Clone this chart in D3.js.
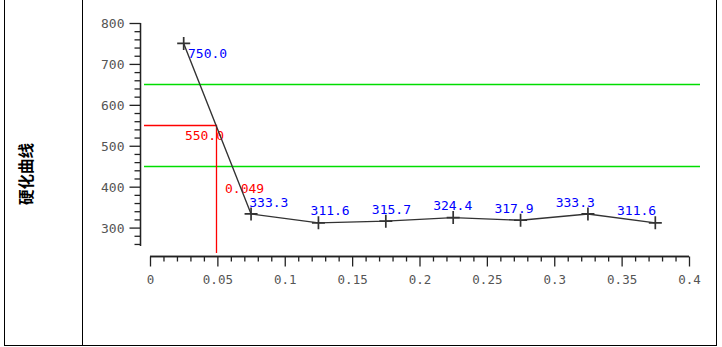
<!DOCTYPE html>
<html><head><meta charset="utf-8">
<script src="https://cdn.jsdelivr.net/npm/d3@7"></script>
<style>
html,body{margin:0;padding:0;background:#fff;}
svg{display:block;}
</style></head>
<body>
<svg id="c" width="722" height="347"></svg>
<script>
const xValues = [0.025, 0.075, 0.125, 0.175, 0.225, 0.275, 0.325, 0.375];
const hardness = [750.0, 333.3, 311.6, 315.7, 324.4, 317.9, 333.3, 311.6];
const yMajorTicks = [300, 400, 500, 600, 700, 800];
const xMajorTicks = [0, 0.05, 0.1, 0.15, 0.2, 0.25, 0.3, 0.35, 0.4];
const limitLines = [650, 450];
const thresholdValue = 550.0;
const thresholdDepth = 0.049;
const rowTitle = "硬化曲线";

const svg = d3.select("#c");
const x = d3.scaleLinear().domain([0, 0.4]).range([150, 689]);
const y = d3.scaleLinear().domain([255, 800]).range([246, 23]);
// labels are laid out in a slightly shrunk frame in the original
const lx = d3.scaleLinear().domain([0.025, 0.375]).range([188, 617]);
const ly = d3.scaleLinear().domain([750, 311.6]).range([57.7, 215]);

const ink = "#222";
const mono = "'DejaVu Sans Mono', 'Liberation Mono', monospace";

// table frame
const frame = svg.append("g").attr("stroke", "#000").attr("stroke-width", 1).attr("shape-rendering", "crispEdges");
frame.append("line").attr("x1", 4.5).attr("x2", 4.5).attr("y1", 0).attr("y2", 345.5);
frame.append("line").attr("x1", 82.5).attr("x2", 82.5).attr("y1", 0).attr("y2", 345.5);
frame.append("line").attr("x1", 716.5).attr("x2", 716.5).attr("y1", 0).attr("y2", 345.5);
frame.append("line").attr("x1", 4.5).attr("x2", 716.5).attr("y1", 345.5).attr("y2", 345.5);

svg.append("text").text(rowTitle)
  .attr("transform", "translate(25,174) rotate(-90)")
  .attr("text-anchor", "middle").attr("dominant-baseline", "central")
  .attr("font-family", "'Noto Sans CJK SC', sans-serif").attr("font-size", 15.5)
  .attr("font-weight", "bold").attr("fill", "#000");

// Y axis
const yMinor = d3.range(260, 801, 20).filter(v => v % 100 !== 0);
const yAxisG = svg.append("g").attr("transform", "translate(140.5,0)");
yAxisG.call(d3.axisLeft(y).tickValues(yMinor).tickSize(6).tickFormat(""));
yAxisG.append("g").call(d3.axisLeft(y).tickValues(yMajorTicks).tickSize(11).tickFormat(d3.format("d")));
yAxisG.selectAll("path, line").attr("stroke", ink).attr("stroke-width", 1.3);
yAxisG.selectAll("path.domain").attr("d", `M0,${y(800)}V${y(255)}`);
yAxisG.selectAll("text").attr("x", -16).attr("font-family", mono).attr("font-size", 13).attr("fill", "#555").attr("dy", "0.35em");

// X axis
const xMinor = d3.range(0, 41).map(i => i / 100).filter(v => Math.round(v * 100) % 5 !== 0);
const xAxisG = svg.append("g").attr("transform", "translate(0,256.5)");
xAxisG.call(d3.axisBottom(x).tickValues(xMinor).tickSize(5).tickFormat("").tickSizeOuter(0));
xAxisG.append("g").call(d3.axisBottom(x).tickValues(xMajorTicks).tickSize(10).tickSizeOuter(0).tickFormat(d => d === 0 ? "0" : d3.format("")(+d.toFixed(2))));
xAxisG.selectAll("path, line").attr("stroke", ink).attr("stroke-width", 1.3);
xAxisG.selectAll("path.domain").attr("d", `M${x(0)},0H${x(0.4)}`);
xAxisG.selectAll("text").attr("y", 23).attr("dy", "0.35em").attr("font-family", mono).attr("font-size", 12.5).attr("fill", "#555");

// Limit lines
svg.selectAll(".lim").data(limitLines).enter().append("line")
  .attr("x1", 144).attr("x2", 700)
  .attr("y1", d => Math.round(y(d)) + 0.5).attr("y2", d => Math.round(y(d)) + 0.5)
  .attr("stroke", "#00dd00").attr("stroke-width", 1.3);

// Threshold lines
const tx = x(thresholdDepth), ty = y(thresholdValue);
svg.append("path")
  .attr("d", `M144,${Math.round(ty) + 0.5}H${Math.round(tx) + 0.5}V${y(255) + 7}`)
  .attr("fill", "none").attr("stroke", "#ff0000").attr("stroke-width", 1.3);
svg.append("text").text(thresholdValue.toFixed(1))
  .attr("x", tx + 8).attr("y", ty + 15).attr("text-anchor", "end")
  .attr("font-family", mono).attr("font-size", 13).attr("fill", "#ff0000");
svg.append("text").text(thresholdDepth.toFixed(3))
  .attr("x", tx + 9).attr("y", ty + 68)
  .attr("font-family", mono).attr("font-size", 13).attr("fill", "#ff0000");

// Curve
const pts = xValues.map((v, i) => ({x: v, y: hardness[i]}));
svg.append("path").datum(pts)
  .attr("d", d3.line().x(d => x(d.x)).y(d => y(d.y)))
  .attr("fill", "none").attr("stroke", "#333").attr("stroke-width", 1.4);

svg.selectAll(".mk").data(pts).enter().append("path")
  .attr("d", d => `M${x(d.x) - 6.5},${y(d.y)}H${x(d.x) + 6.5}M${x(d.x)},${y(d.y) - 6.5}V${y(d.y) + 6.5}`)
  .attr("stroke", "#333").attr("stroke-width", 1.7);

svg.selectAll(".lbl").data(pts).enter().append("text")
  .text(d => d.y.toFixed(1))
  .attr("x", d => lx(d.x)).attr("y", d => ly(d.y))
  .attr("font-family", mono).attr("font-size", 13).attr("fill", "#0000ff");
</script>
</body></html>
